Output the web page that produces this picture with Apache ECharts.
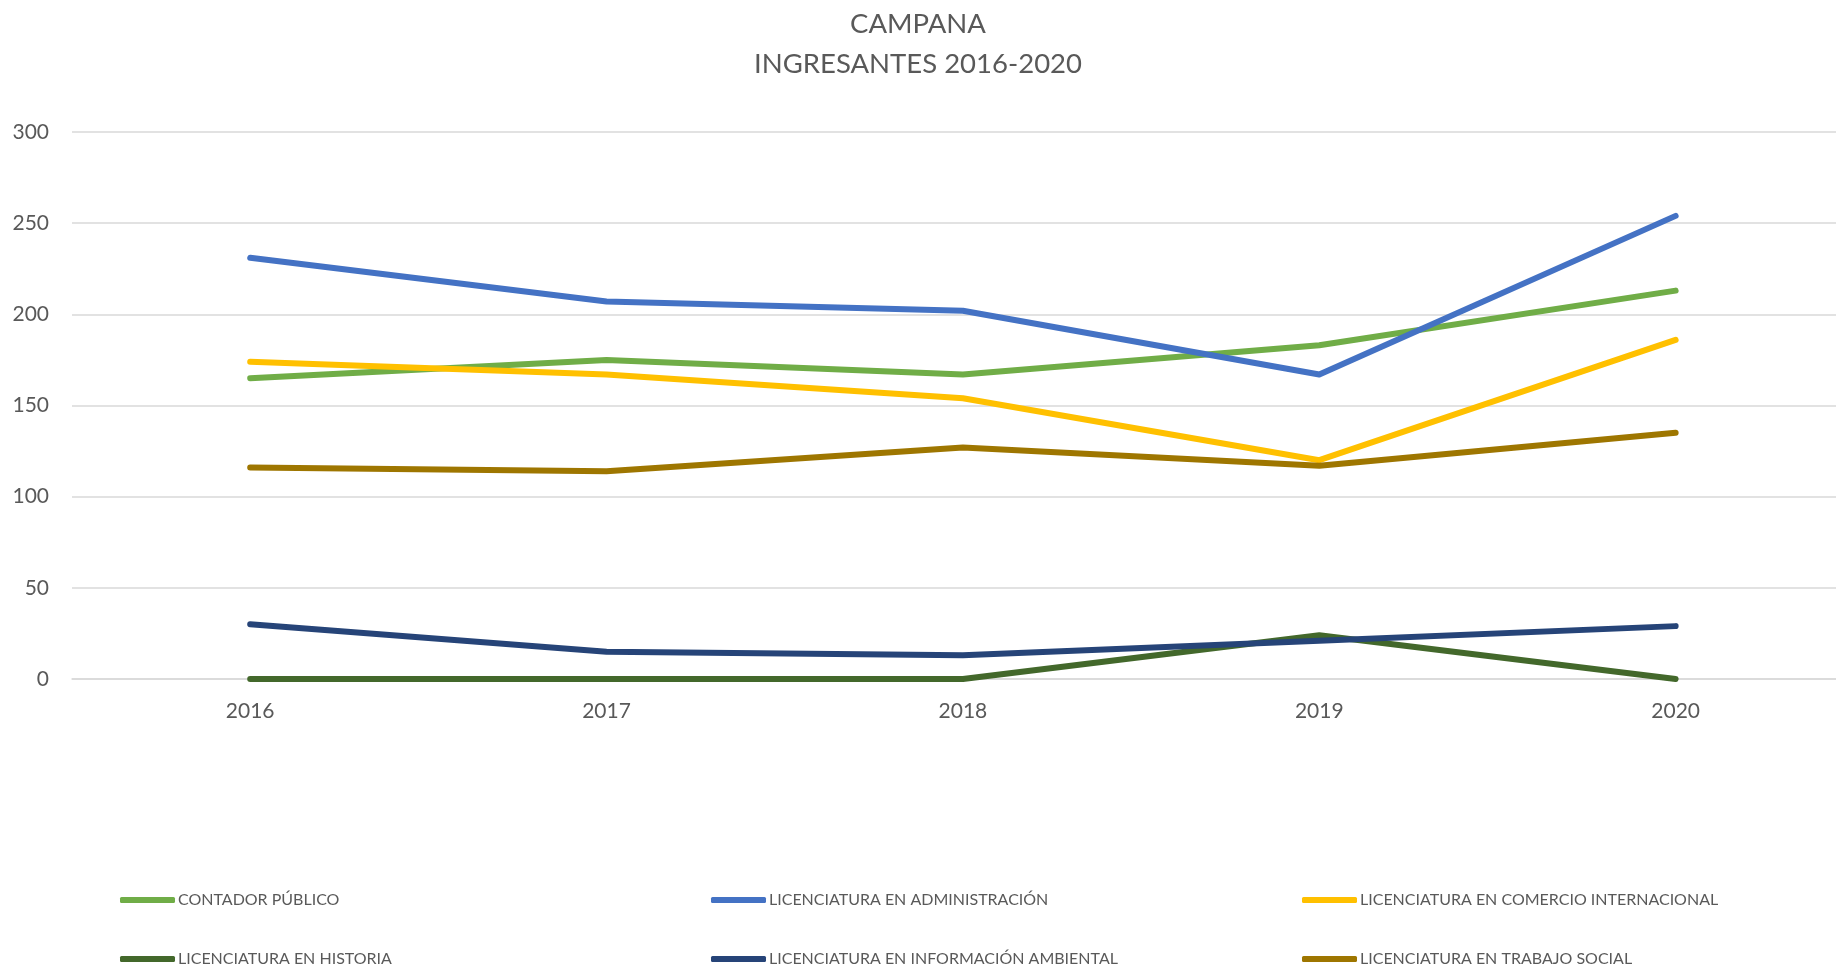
<!DOCTYPE html>
<html><head><meta charset="utf-8">
<script src="https://cdn.jsdelivr.net/npm/echarts@6/dist/echarts.min.js"></script>
<style>html,body{margin:0;padding:0;background:#fff}#c{width:1836px;height:968px}</style>
</head><body><div id="c"></div>
<script>
const categories = ['2016','2017','2018','2019','2020'];
const contadorPublico = [165,175,167,183,213];
const licAdministracion = [231,207,202,167,254];
const licComercioInt = [174,167,154,120,186];
const licHistoria = [0,0,0,24,0];
const licInfoAmbiental = [30,15,13,21,29];
const licTrabajoSocial = [116,114,127,117,135];
const yTicks = [0,50,100,150,200,250,300];

const seriesDefs = [
  {name:'CONTADOR PÚBLICO', data:contadorPublico, color:'#70AD47'},
  {name:'LICENCIATURA EN ADMINISTRACIÓN', data:licAdministracion, color:'#4472C4'},
  {name:'LICENCIATURA EN COMERCIO INTERNACIONAL', data:licComercioInt, color:'#FFC000'},
  {name:'LICENCIATURA EN HISTORIA', data:licHistoria, color:'#43682B'},
  {name:'LICENCIATURA EN INFORMACIÓN AMBIENTAL', data:licInfoAmbiental, color:'#264478'},
  {name:'LICENCIATURA EN TRABAJO SOCIAL', data:licTrabajoSocial, color:'#9E7600'}
];
const font = 'Lato, "Open Sans", sans-serif';
const legendPos = [[115,896],[706,896],[1297,896],[115,955],[706,955],[1297,955]];
const catIdx = categories.map((c,i)=>i);
const chart = echarts.init(document.getElementById('c'));
chart.setOption({
  backgroundColor:'#fff',
  animation:false,
  title:{text:'CAMPANA\nINGRESANTES 2016-2020', left:'center', top:-1,
    textStyle:{color:'#595959', fontSize:27.5, fontWeight:'normal', fontFamily:font, lineHeight:40}},
  grid:{left:72, right:0, top:132, bottom:289, containLabel:false},
  legend: seriesDefs.map((s,i)=>({data:[s.name], left:legendPos[i][0], top:legendPos[i][1]-9,
    icon:'roundRect', itemWidth:55, itemHeight:6, itemGap:4,
    textStyle:{color:'#595959', fontSize:16, fontFamily:font, padding:[0,0,0,-2]}})),
  xAxis:{type:'value', min:-0.5, max:4.45,
    axisLine:{show:true, onZero:false, lineStyle:{color:'#D9D9D9', width:1.5}},
    axisTick:{show:false}, splitLine:{show:false},
    axisLabel:{customValues:catIdx, formatter:v=>categories[Math.round(v)],
      color:'#595959', fontSize:21, fontFamily:font, margin:22}},
  yAxis:{type:'value', min:yTicks[0], max:yTicks[yTicks.length-1], interval:50,
    axisLine:{show:false}, axisTick:{show:false},
    splitLine:{lineStyle:{color:'#D9D9D9', width:1.5}},
    axisLabel:{color:'#595959', fontSize:21, fontFamily:font, margin:23}},
  series: seriesDefs.map(s=>({name:s.name, type:'line', data:s.data.map((v,i)=>[catIdx[i], v]), symbol:'none',
    color:s.color, lineStyle:{width:6, color:s.color, cap:'round', join:'round'}}))
});
</script></body></html>
